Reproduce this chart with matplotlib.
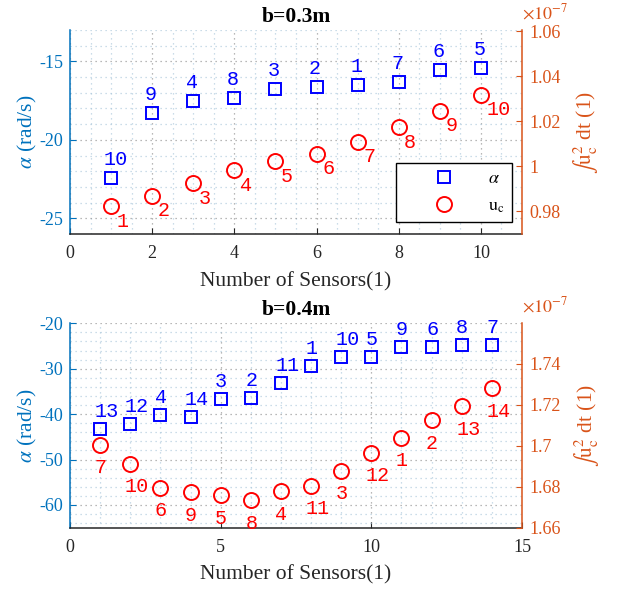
import matplotlib
matplotlib.use("Agg")
from matplotlib import pyplot as plt
from matplotlib.ticker import MultipleLocator, FuncFormatter
from matplotlib.lines import Line2D

# b = 0.3 m
top_sensors = [1, 2, 3, 4, 5, 6, 7, 8, 9, 10]
top_alpha = [-22.45, -18.26, -17.5, -17.36, -16.77, -16.62, -16.51, -16.34, -15.57, -15.45]
top_alpha_labels = [10, 9, 4, 8, 3, 2, 1, 7, 6, 5]
top_uc = [0.9824, 0.9870, 0.9924, 0.9983, 1.0022, 1.0056, 1.0109, 1.0173, 1.0247, 1.0318]  # x 1e-7
top_uc_labels = [1, 2, 3, 4, 5, 6, 7, 8, 9, 10]

# b = 0.4 m
bot_sensors = [1, 2, 3, 4, 5, 6, 7, 8, 9, 10, 11, 12, 13, 14]
bot_alpha = [-43.3, -42.1, -40.2, -40.6, -36.6, -36.5, -33.2, -29.5, -27.5, -27.5, -25.3, -25.2, -24.8, -24.8]
bot_alpha_labels = [13, 12, 4, 14, 3, 2, 11, 1, 10, 5, 9, 6, 8, 7]
bot_uc = [1.7006, 1.6912, 1.6795, 1.6774, 1.6759, 1.6734, 1.6777, 1.6805, 1.6877, 1.6965,
          1.7039, 1.7124, 1.7194, 1.7282]  # x 1e-7
bot_uc_labels = [7, 10, 6, 9, 5, 8, 4, 11, 3, 12, 1, 2, 13, 14]

BLUE_AX = "#0072BD"
ORANGE_AX = "#D95319"
DARK = "#262626"
SERIF = "Liberation Serif"
MONO = "Liberation Mono"

plt.rcParams["font.family"] = [SERIF, "DejaVu Serif"]
plt.rcParams["mathtext.fontset"] = "stix"

fig = plt.figure(figsize=(6.23, 5.9), dpi=100)


def style_axes(ax, ax2, xlim, xmaj, xmin, ylim, ymaj, ymin, y2lim, y2ticks, title):
    ax.set_xlim(*xlim)
    ax.set_ylim(*ylim)
    ax.xaxis.set_major_locator(MultipleLocator(xmaj))
    ax.xaxis.set_minor_locator(MultipleLocator(xmin))
    ax.yaxis.set_major_locator(MultipleLocator(ymaj))
    ax.yaxis.set_minor_locator(MultipleLocator(ymin))
    ax.grid(True, which="major", ls=(0, (1, 3)), color="#8a8a8a", lw=0.9, alpha=0.8)
    ax.grid(True, which="minor", ls=(0, (1, 3)), color="#a9c6da", lw=0.9, alpha=0.8)
    ax.set_axisbelow(True)
    ax.yaxis.set_major_formatter(FuncFormatter(lambda v, p: "%g" % v))
    for s in ["top", "right"]:
        ax.spines[s].set_visible(False)
    ax.spines["left"].set_color(BLUE_AX)
    ax.spines["bottom"].set_color(DARK)
    ax.spines["left"].set_linewidth(1.1)
    ax.spines["bottom"].set_linewidth(1.1)
    ax.tick_params(axis="x", direction="in", length=4, colors=DARK, labelsize=13, pad=8)
    ax.tick_params(axis="y", direction="in", length=4, colors=BLUE_AX, labelsize=13, pad=5)
    ax.tick_params(which="minor", length=0)
    ax.set_xlabel("Number of Sensors(1)", fontsize=15.5, color=DARK, labelpad=7)
    ax.set_ylabel(r"$\alpha$ (rad/s)", fontsize=15.5, color=BLUE_AX, labelpad=0)
    ax.set_title(title, fontsize=15.5, fontweight="bold", pad=6)

    ax2.set_ylim(*y2lim)
    ax2.set_yticks(y2ticks)
    ax2.yaxis.set_major_formatter(FuncFormatter(lambda v, p: "%g" % round(v, 4)))
    for s in ["top", "left", "bottom"]:
        ax2.spines[s].set_visible(False)
    ax2.spines["right"].set_color(ORANGE_AX)
    ax2.spines["right"].set_linewidth(1.1)
    ax2.tick_params(axis="y", direction="in", length=4, colors=ORANGE_AX, labelsize=13, pad=5)
    ax2.set_ylabel(r"$\int \mathrm{u}_\mathrm{c}^2$ dt (1)", fontsize=15.5, color=ORANGE_AX, labelpad=8)
    ax2.annotate(r"$\times10^{-7}$", (1.0, 1.0), xycoords="axes fraction", xytext=(0, 5),
                 textcoords="offset points", color=ORANGE_AX, fontsize=13, ha="left", va="bottom")


def px(v):
    return v * 0.72


# ---- top panel
ax1 = fig.add_axes([0.1124, 0.6034, 0.7255, 0.3458])
ax1r = ax1.twinx()
style_axes(ax1, ax1r, (0, 11), 2, 0.5, (-26, -13), 5, 1, (0.97, 1.0605),
           [0.98, 1.0, 1.02, 1.04, 1.06], "b=0.3m")
ax1.plot(top_sensors, top_alpha, ls="none", marker="s", ms=8.3, mfc="none", mec="blue", mew=1.4)
ax1r.plot(top_sensors, top_uc, ls="none", marker="o", ms=10.8, mfc="none", mec="red", mew=1.4)
for x, y, lab in zip(top_sensors, top_alpha, top_alpha_labels):
    ax1.annotate(str(lab), (x, y), xytext=(px(-7.5), px(13)), textcoords="offset points",
                 ha="left", va="baseline", color="blue", fontsize=14.5, fontfamily=MONO)
for x, y, lab in zip(top_sensors, top_uc, top_uc_labels):
    ax1r.annotate(str(lab), (x, y), xytext=(px(5.5), px(-20.5)), textcoords="offset points",
                  ha="left", va="baseline", color="red", fontsize=14.5, fontfamily=MONO)

handles = [Line2D([], [], ls="none", marker="s", ms=8.3, mfc="none", mec="blue", mew=1.4),
           Line2D([], [], ls="none", marker="o", ms=10.8, mfc="none", mec="red", mew=1.4)]
leg = ax1r.legend(handles, [r"$\alpha$", r"$\mathrm{u_c}$"], loc="lower right",
                  bbox_to_anchor=(0.978, 0.059), fontsize=13, frameon=True, fancybox=False,
                  framealpha=1, edgecolor="black", handlelength=4.5, handletextpad=0.2,
                  labelspacing=0.55, borderpad=0.4, borderaxespad=0)
leg.get_frame().set_linewidth(1.0)

# ---- bottom panel
ax2 = fig.add_axes([0.1124, 0.1056, 0.7255, 0.3464])
ax2r = ax2.twinx()
style_axes(ax2, ax2r, (0, 15), 5, 1, (-65, -20), 10, 2, (1.66, 1.7598),
           [1.66, 1.68, 1.70, 1.72, 1.74], "b=0.4m")
ax2.plot(bot_sensors, bot_alpha, ls="none", marker="s", ms=8.3, mfc="none", mec="blue", mew=1.4)
ax2r.plot(bot_sensors, bot_uc, ls="none", marker="o", ms=10.8, mfc="none", mec="red", mew=1.4)
for x, y, lab in zip(bot_sensors, bot_alpha, bot_alpha_labels):
    ax2.annotate(str(lab), (x, y), xytext=(px(-5.5), px(12)), textcoords="offset points",
                 ha="left", va="baseline", color="blue", fontsize=14.5, fontfamily=MONO)
for x, y, lab in zip(bot_sensors, bot_uc, bot_uc_labels):
    ax2r.annotate(str(lab), (x, y), xytext=(px(-5.5), px(-28.5)), textcoords="offset points",
                  ha="left", va="baseline", color="red", fontsize=14.5, fontfamily=MONO)

fig.savefig("out.png", dpi=100)
